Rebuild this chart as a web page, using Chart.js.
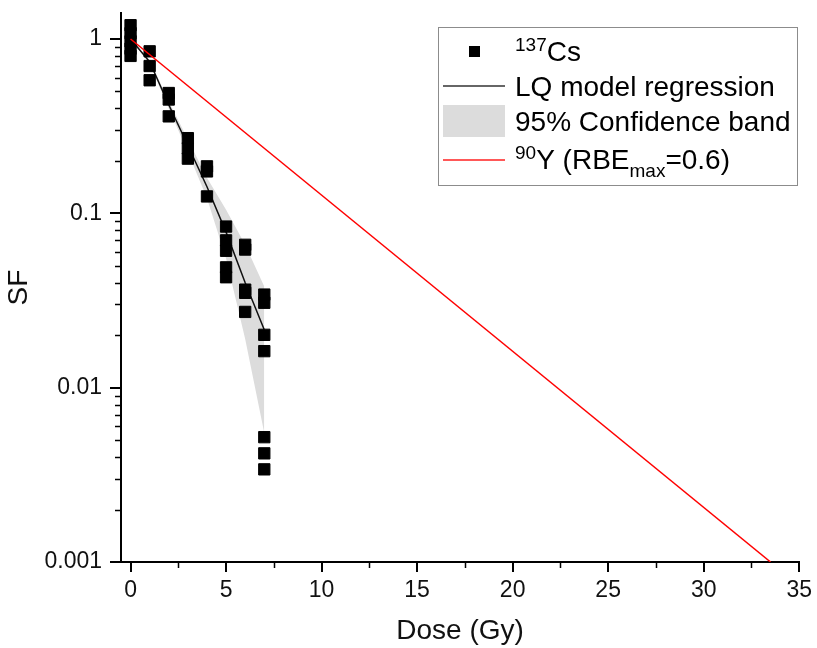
<!DOCTYPE html>
<html lang="en">
<head>
<meta charset="UTF-8">
<title>SF</title>
<script src="https://cdn.jsdelivr.net/npm/chart.js@4.4.0/dist/chart.umd.min.js"></script>
<style>
  body { margin: 0; background: #fff; }
  #wrap { width: 817px; height: 648px; }
</style>
</head>
<body>
<div id="wrap"><canvas id="sfCanvas" width="817" height="648"></canvas></div>
<script>
// 137Cs measured points
const csDose = [0, 0, 0, 0, 0, 1, 1, 1, 2, 2, 2, 3, 3, 3, 4, 4, 4,
                5, 5, 5, 5, 5, 6, 6, 6, 6, 6, 7, 7, 7, 7, 7, 7, 7];
const csSF = [1.2, 1.08, 0.97, 0.88, 0.8, 0.85, 0.7, 0.58, 0.49, 0.45, 0.36,
              0.27, 0.236, 0.206, 0.186, 0.174, 0.125,
              0.084, 0.07, 0.061, 0.049, 0.043,
              0.066, 0.062, 0.0365, 0.035, 0.0272,
              0.0342, 0.0307, 0.0201, 0.0162, 0.0052, 0.0042, 0.0034];

// LQ fit and its 95% band
const lqDose = [0, 1, 2, 3, 4, 5, 6, 7];
const lqSF = [1, 0.74, 0.42, 0.245, 0.142, 0.078, 0.04, 0.0215];
const bandLow = [1, 0.72, 0.4, 0.225, 0.122, 0.055, 0.019, 0.0055];
const bandHigh = [1, 0.76, 0.44, 0.265, 0.16, 0.105, 0.066, 0.038];

// 90Y line
const yDose = [0, 33.5];
const ySF = [1, 0.001];

const xTicks = [0, 5, 10, 15, 20, 25, 30, 35];
const yTicks = [0.001, 0.01, 0.1, 1];
const yTickLabels = ['0.001', '0.01', '0.1', '1'];

const pts = (xs, ys) => xs.map((x, i) => ({x: x, y: ys[i]}));
const FONT = "'Liberation Sans', Arial, sans-serif";

const extras = {
    id: 'extras',
    afterDraw(chart) {
        const c = chart.ctx;
        const xs = chart.scales.x, ys = chart.scales.y;
        c.save();
        c.strokeStyle = '#000';
        c.lineWidth = 1.5;
        // minor ticks
        c.beginPath();
        for (let d = 0.001; d < 1.5; d *= 10) {
            for (let m = 2; m <= 9; m++) {
                const v = d * m;
                if (v > ys.max) break;
                const py = Math.round(ys.getPixelForValue(v)) + 0.5;
                c.moveTo(xs.left - 6, py);
                c.lineTo(xs.left, py);
            }
        }
        for (let v = 2.5; v < 35; v += 5) {
            const px = Math.round(xs.getPixelForValue(v)) + 0.5;
            c.moveTo(px, ys.bottom);
            c.lineTo(px, ys.bottom + 6);
        }
        c.stroke();

        // legend
        c.strokeStyle = '#8c8c8c';
        c.lineWidth = 1;
        c.strokeRect(438.5, 27.5, 359, 158);
        c.fillStyle = '#000';
        c.fillRect(469, 46, 11, 11);
        c.strokeStyle = '#333';
        c.lineWidth = 1.5;
        c.beginPath(); c.moveTo(443, 86); c.lineTo(505, 86); c.stroke();
        c.fillStyle = '#dcdcdc';
        c.fillRect(443, 105, 62, 32);
        c.strokeStyle = '#ff2020';
        c.beginPath(); c.moveTo(443, 160); c.lineTo(505, 160); c.stroke();

        c.fillStyle = '#000';
        c.textBaseline = 'alphabetic';
        c.textAlign = 'left';
        const big = '28px ' + FONT, small = '19px ' + FONT;
        let x = 515;
        c.font = small; c.fillText('137', x, 51); x += c.measureText('137').width;
        c.font = big; c.fillText('Cs', x, 61);
        c.fillText('LQ model regression', 515, 96);
        c.fillText('95% Confidence band', 515, 131);
        x = 515;
        c.font = small; c.fillText('90', x, 159); x += c.measureText('90').width;
        c.font = big; c.fillText('Y (RBE', x, 169); x += c.measureText('Y (RBE').width;
        c.font = small; c.fillText('max', x, 177); x += c.measureText('max').width;
        c.font = big; c.fillText('=0.6)', x, 169);
        c.restore();
    }
};

const ctx = document.getElementById('sfCanvas').getContext('2d');
const sfChart = new Chart(ctx, {
    type: 'scatter',
    data: {
        datasets: [
            {   // 90Y
                type: 'line',
                data: pts(yDose, ySF),
                borderColor: '#ff0000',
                borderWidth: 1.5,
                pointRadius: 0,
                fill: false,
                order: 0
            },
            {   // 137Cs
                data: pts(csDose, csSF),
                pointStyle: 'rect',
                pointRadius: 8,
                backgroundColor: '#000',
                borderColor: '#000',
                borderWidth: 1,
                order: 1
            },
            {   // LQ
                type: 'line',
                data: pts(lqDose, lqSF),
                borderColor: '#111',
                borderWidth: 1.5,
                pointRadius: 0,
                fill: false,
                order: 2
            },
            {   // band high
                type: 'line',
                data: pts(lqDose, bandHigh),
                borderWidth: 0,
                borderColor: 'rgba(0,0,0,0)',
                backgroundColor: '#dcdcdc',
                pointRadius: 0,
                fill: '+1',
                order: 3
            },
            {   // band low
                type: 'line',
                data: pts(lqDose, bandLow),
                borderWidth: 0,
                borderColor: 'rgba(0,0,0,0)',
                pointRadius: 0,
                fill: false,
                order: 4
            }
        ]
    },
    options: {
        responsive: false,
        animation: false,
        devicePixelRatio: 1,
        layout: { padding: { top: 13, right: 17, left: 0, bottom: 0 } },
        plugins: {
            legend: { display: false },
            tooltip: { enabled: false }
        },
        scales: {
            x: {
                type: 'linear',
                min: -0.5,
                max: 35,
                afterBuildTicks: s => { s.ticks = xTicks.map(v => ({value: v})); },
                afterFit: s => { s.height = 86; },
                ticks: {
                    font: { family: FONT, size: 23 },
                    color: '#111',
                    padding: 5,
                    maxRotation: 0
                },
                grid: { drawOnChartArea: false, tickLength: 10, color: '#000', lineWidth: 2 },
                border: { color: '#000', width: 2 },
                title: {
                    display: true,
                    text: 'Dose (Gy)',
                    color: '#111',
                    font: { family: FONT, size: 28 },
                    padding: { top: 0, bottom: 0 }
                }
            },
            y: {
                type: 'logarithmic',
                min: 0.001,
                max: 1.41,
                afterBuildTicks: s => { s.ticks = yTicks.map(v => ({value: v})); },
                afterFit: s => { s.width = 121; s.paddingTop = 0; s.paddingBottom = 0; },
                ticks: {
                    font: { family: FONT, size: 23 },
                    color: '#111',
                    padding: 8,
                    callback: (v, i) => yTickLabels[i]
                },
                grid: { drawOnChartArea: false, tickLength: 11, color: '#000', lineWidth: 2 },
                border: { color: '#000', width: 2 },
                title: {
                    display: true,
                    text: 'SF',
                    color: '#111',
                    font: { family: FONT, size: 28 },
                    padding: { top: 2, bottom: 0 }
                }
            }
        }
    },
    plugins: [extras]
});
</script>
</body>
</html>
